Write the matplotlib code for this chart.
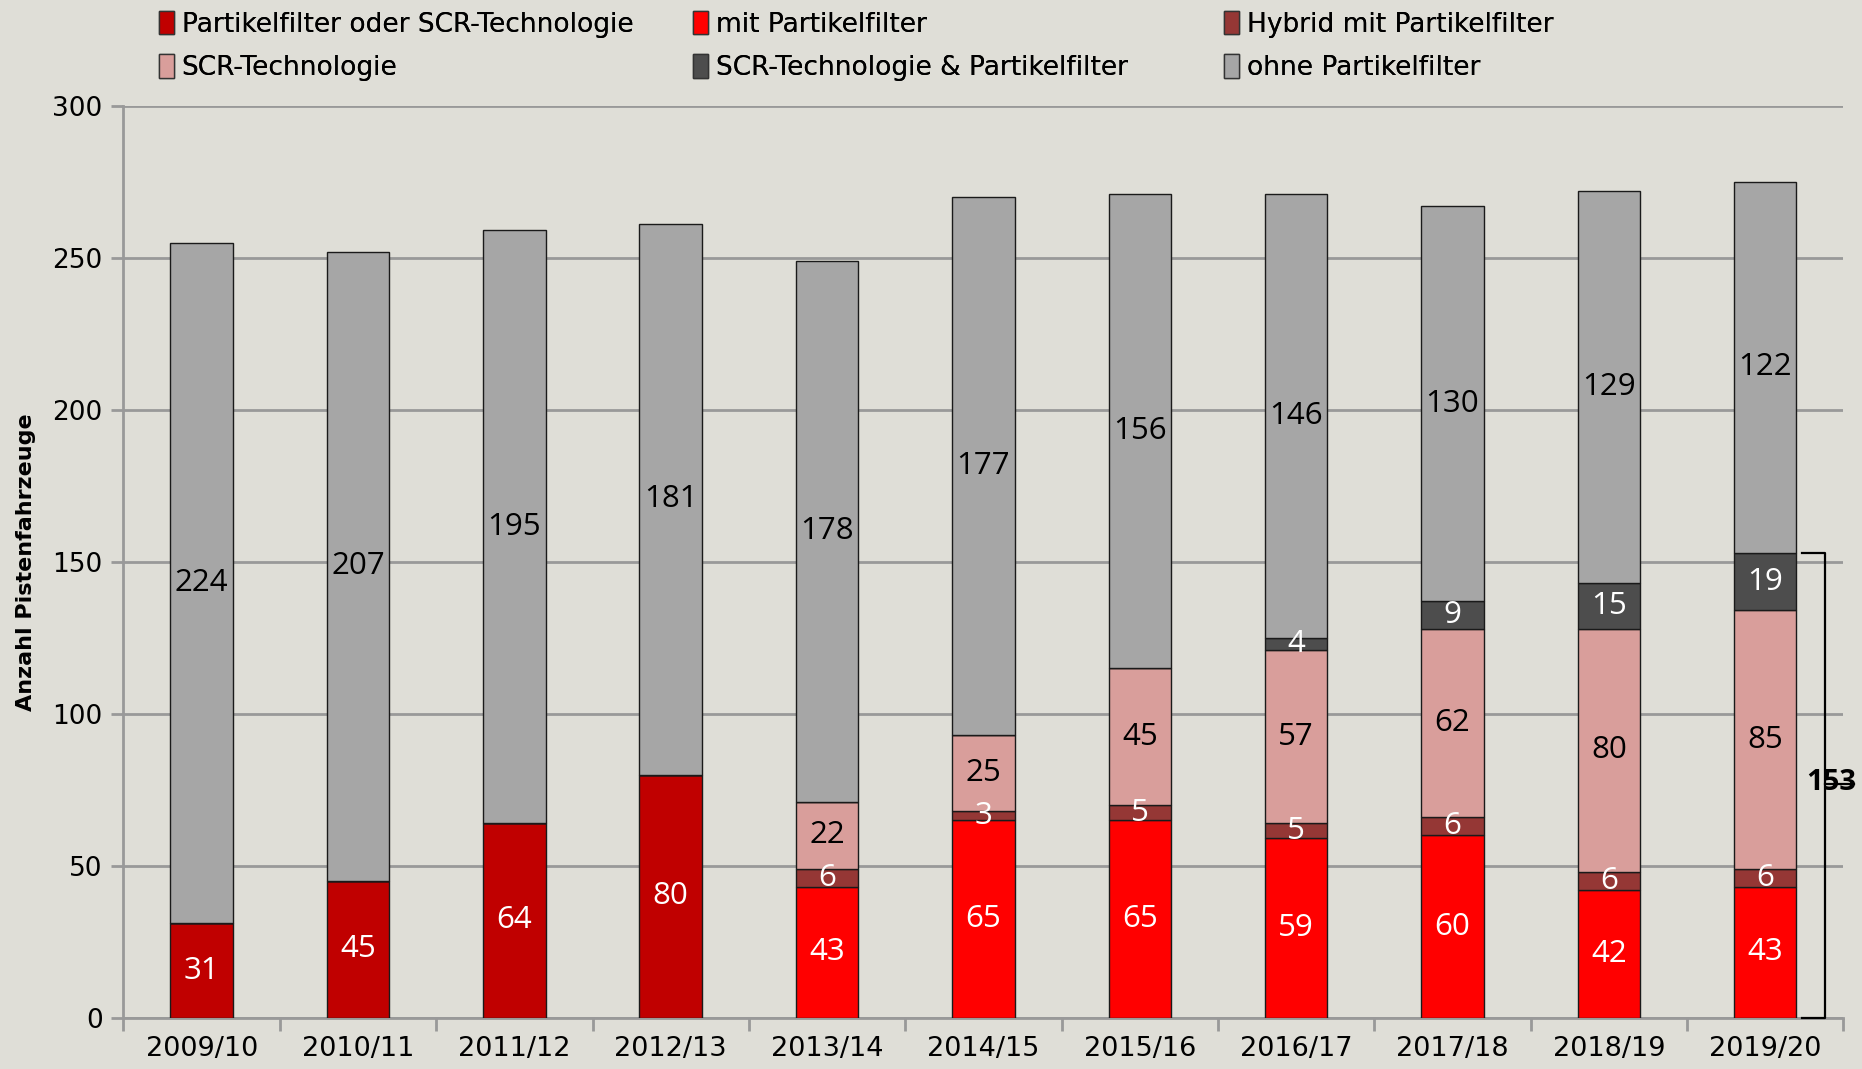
import matplotlib
matplotlib.use("Agg")
import matplotlib.pyplot as plt
import numpy as np
from matplotlib.patches import Patch

seasons = ["2009/10", "2010/11", "2011/12", "2012/13", "2013/14", "2014/15",
           "2015/16", "2016/17", "2017/18", "2018/19", "2019/20"]
pf_oder_scr = [31, 45, 64, 80, 0, 0, 0, 0, 0, 0, 0]
mit_pf = [0, 0, 0, 0, 43, 65, 65, 59, 60, 42, 43]
hybrid_pf = [0, 0, 0, 0, 6, 3, 5, 5, 6, 6, 6]
scr = [0, 0, 0, 0, 22, 25, 45, 57, 62, 80, 85]
scr_pf = [0, 0, 0, 0, 0, 0, 0, 4, 9, 15, 19]
ohne_pf = [224, 207, 195, 181, 178, 177, 156, 146, 130, 129, 122]
bracket_total = 153

series = [
    ("Partikelfilter oder SCR-Technologie", pf_oder_scr, "#C00000", "white"),
    ("mit Partikelfilter", mit_pf, "#FF0000", "white"),
    ("Hybrid mit Partikelfilter", hybrid_pf, "#953735", "white"),
    ("SCR-Technologie", scr, "#D99E9B", "black"),
    ("SCR-Technologie & Partikelfilter", scr_pf, "#4D4D4D", "white"),
    ("ohne Partikelfilter", ohne_pf, "#A6A6A6", "black"),
]

BG = "#DFDED7"
plt.rcParams["font.family"] = ["Open Sans", "DejaVu Sans"]

fig = plt.figure(figsize=(18.62, 10.69), dpi=100, facecolor=BG)
ax = fig.add_axes([0.0663, 0.048, 0.9237, 0.853])
ax.set_facecolor(BG)

x = np.arange(len(seasons))
bottom = np.zeros(len(seasons))
for name, vals, col, tcol in series:
    vals = np.array(vals, dtype=float)
    ax.bar(x, vals, width=0.4, bottom=bottom, color=col, edgecolor="#1a1a1a",
           linewidth=1.0, zorder=3)
    for i, v in enumerate(vals):
        if v > 0:
            ax.text(x[i], bottom[i] + v / 2, f"{int(v)}", ha="center", va="center",
                    color=tcol, fontsize=22.5, zorder=5)
    bottom += vals

ax.set_xlim(-0.5, len(seasons) - 0.5)
ax.set_ylim(0, 300)
ax.set_yticks(np.arange(0, 301, 50))
ax.set_xticks(x)
ax.set_xticklabels(seasons, family="DejaVu Sans", fontsize=19.5)
ax.set_xticks(np.arange(-0.5, len(seasons), 1.0), minor=True)
ax.tick_params(axis="x", which="major", length=0, pad=13)
ax.tick_params(axis="x", which="minor", length=9, width=2, color="#999999")
ax.tick_params(axis="y", length=9, width=2, color="#999999", labelsize=19, pad=6)
for lab in ax.get_yticklabels():
    lab.set_family("DejaVu Sans")
ax.grid(axis="y", color="#999999", linewidth=2, zorder=0)
for s in ["top", "right"]:
    ax.spines[s].set_visible(False)
for s in ["left", "bottom"]:
    ax.spines[s].set_color("#999999")
    ax.spines[s].set_linewidth(2)
ax.set_ylabel("Anzahl Pistenfahrzeuge", family="DejaVu Sans", fontsize=16,
              fontweight="bold", labelpad=12)

# bracket for last season
xb = x[-1] + 0.38
xt = x[-1] + 0.235
ax.plot([xt, xb, xb, xt], [bracket_total, bracket_total, 0, 0],
        color="black", linewidth=1.6, clip_on=False, zorder=4)
ax.text(x[-1] + 0.265, bracket_total / 2 + 1, f"{bracket_total}", ha="left", va="center",
        fontsize=21, fontweight="bold", color="black", clip_on=False, zorder=5)
ax.plot([xb, xb + 0.19], [bracket_total / 2 + 0.5, bracket_total / 2 + 0.5],
        color="black", linewidth=1.6, clip_on=False, zorder=6)

handles = [Patch(facecolor=c, edgecolor="#333333", linewidth=1, label=n)
           for n, _, c, _ in series]
col_x = [0.0855, 0.3724, 0.6575]
for k in range(3):
    leg = fig.legend(handles=[handles[k], handles[k + 3]], ncol=1, loc="upper left",
                     bbox_to_anchor=(col_x[k], 0.990), frameon=False,
                     prop={"family": "DejaVu Sans", "size": 19},
                     handlelength=0.55, handleheight=1.0, handletextpad=0.3,
                     labelspacing=0.62, borderpad=0, borderaxespad=0)
    fig.add_artist(leg)

fig.savefig("out.png", dpi=100, facecolor=BG)
